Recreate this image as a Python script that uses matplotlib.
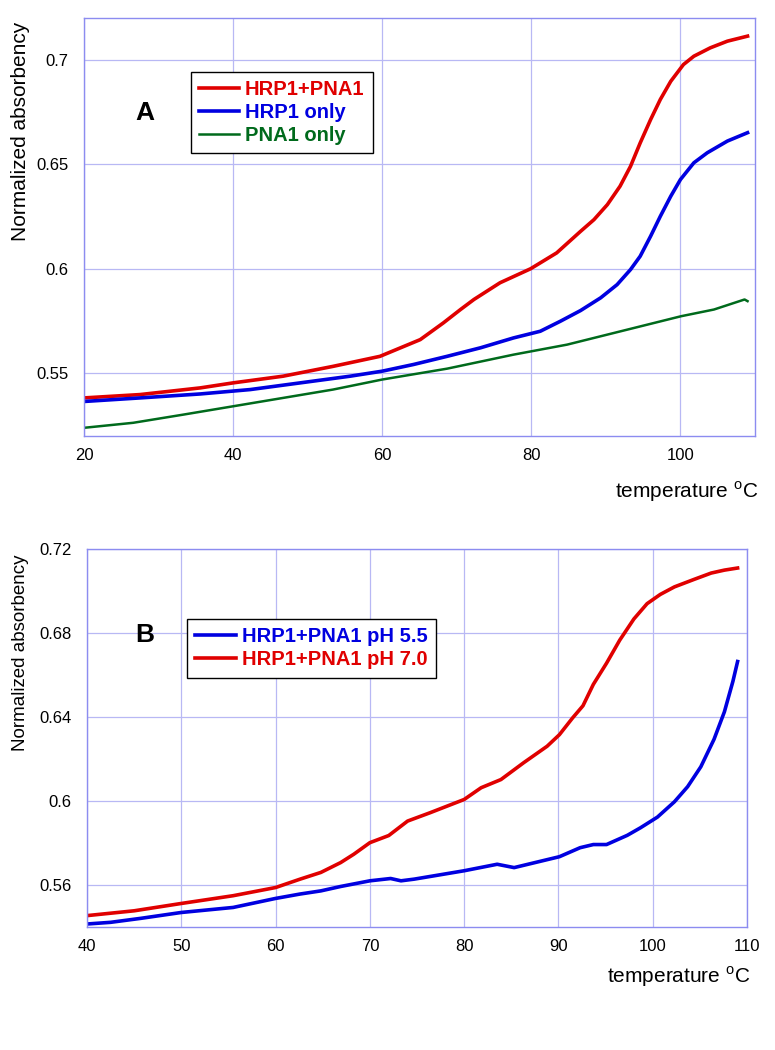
import numpy as np
import matplotlib
matplotlib.use("Agg")
import matplotlib.pyplot as plt

# Panel A: normalized absorbency vs temperature
a_red_t = [20, 27.5, 35.6, 40, 46.7, 53.4, 59.7, 62.4, 65.1, 68.2, 70.5, 72.3, 75.8,
           79.9, 83.4, 86.6, 88.4, 90.2, 91.9, 93.3, 94.6, 96, 97.3, 98.7, 100.4,
           101.8, 104, 106.3, 109]
a_red_v = [0.5382, 0.5398, 0.543, 0.5454, 0.5486, 0.5533, 0.5581, 0.5621, 0.5661,
           0.5741, 0.5805, 0.5853, 0.5933, 0.6, 0.6076, 0.6179, 0.6235, 0.6307,
           0.6395, 0.649, 0.6602, 0.6714, 0.681, 0.6897, 0.6977, 0.7017, 0.7057,
           0.7089, 0.7113]

a_blue_t = [20, 27.5, 35.6, 42.3, 49, 55.7, 60, 64.2, 68.7, 73.2, 77.6, 81.2, 83.9,
            86.6, 89.3, 91.5, 93.3, 94.6, 96, 97.3, 98.7, 100, 101.8, 103.6, 106.3, 109]
a_blue_v = [0.5365, 0.5382, 0.5401, 0.5422, 0.5454, 0.5486, 0.551, 0.5542, 0.5581,
            0.5622, 0.5669, 0.5701, 0.5749, 0.58, 0.5861, 0.5924, 0.5996, 0.606,
            0.6156, 0.6251, 0.6347, 0.6427, 0.6507, 0.6555, 0.6611, 0.6651]

a_green_t = [20, 26.6, 33.3, 40, 46.7, 53.4, 60, 68.7, 77.6, 84.8, 90.2, 100.1, 104.5,
             108.6, 109]
a_green_v = [0.5239, 0.5263, 0.5302, 0.5342, 0.5382, 0.5422, 0.547, 0.5522, 0.5589,
             0.5637, 0.5685, 0.5773, 0.5805, 0.5853, 0.5845]

# Panel B: pH comparison
b_ph55_t = [40, 42.5, 45.7, 50, 55.5, 60, 62.6, 64.8, 66.9, 70, 72.2, 73.3, 74.7, 80,
            83.5, 85.3, 90.1, 92.3, 93.7, 95.1, 97.3, 98.7, 100.5, 102.3, 103.7, 105.1,
            106.5, 107.6, 108.5, 109]
b_ph55_v = [0.5413, 0.5421, 0.544, 0.5468, 0.5492, 0.5535, 0.5556, 0.5571, 0.5592,
            0.5619, 0.563, 0.5619, 0.5627, 0.5667, 0.5698, 0.5682, 0.5734, 0.5777,
            0.5792, 0.5792, 0.5836, 0.5872, 0.5923, 0.5996, 0.6068, 0.6163, 0.6294,
            0.6425, 0.657, 0.6665]

b_ph70_t = [40, 45, 50, 55.5, 60, 62.6, 64.8, 66.9, 68.3, 70, 72, 74, 76.4, 80, 81.8,
            83.9, 86.3, 88.8, 90.1, 91.5, 92.6, 93.7, 95.1, 96.5, 98, 99.4, 100.8, 102.3,
            104.4, 106.2, 107.6, 109]
b_ph70_v = [0.5453, 0.5476, 0.5511, 0.5548, 0.5587, 0.5627, 0.5659, 0.5706, 0.5746,
            0.5801, 0.5835, 0.5904, 0.5944, 0.6007, 0.6063, 0.6102, 0.6182, 0.6261,
            0.6316, 0.6396, 0.6454, 0.6556, 0.6657, 0.6767, 0.6868, 0.6941, 0.6985,
            0.7021, 0.7057, 0.7087, 0.7101, 0.7111]

RED = '#e00000'
BLUE = '#0000e0'
GREEN = '#006a1c'
GRID = '#b8b8f4'
SPINE = '#8c8cf0'

plt.rcParams['font.family'] = ['Liberation Sans', 'DejaVu Sans']
plt.rcParams['mathtext.fontset'] = 'custom'
plt.rcParams['mathtext.rm'] = 'Liberation Sans'

fig = plt.figure(figsize=(7.75, 10.5), dpi=100)
ax1 = fig.add_axes([0.1084, 0.5848, 0.8658, 0.3981])
ax2 = fig.add_axes([0.1123, 0.1174, 0.8516, 0.3594])


def style(ax, xlim, ylim, xticks, yticks, yticklabels):
    ax.set_xlim(*xlim)
    ax.set_ylim(*ylim)
    ax.set_xticks(xticks)
    ax.set_yticks(yticks)
    ax.set_yticklabels(yticklabels)
    ax.grid(True, color=GRID, linewidth=0.9)
    ax.set_axisbelow(True)
    for s in ax.spines.values():
        s.set_color(SPINE)
        s.set_linewidth(1.0)
    ax.tick_params(length=0, labelsize=12)
    ax.tick_params(axis='x', pad=8.5)
    ax.tick_params(axis='y', pad=11)


def color_legend(ax, xy):
    leg = ax.legend(loc='upper left', bbox_to_anchor=xy, borderaxespad=0,
                    fancybox=False, edgecolor='black', framealpha=1,
                    prop={'weight': 'bold', 'size': 14.5}, handlelength=2.0,
                    handletextpad=0.3, labelspacing=0.2, borderpad=0.4)
    leg.get_frame().set_linewidth(1.0)
    for txt, line in zip(leg.get_texts(), leg.get_lines()):
        txt.set_color(line.get_color())


# Panel A
ax1.plot(a_red_t, a_red_v, color=RED, lw=2.6, label='HRP1+PNA1')
ax1.plot(a_blue_t, a_blue_v, color=BLUE, lw=2.6, label='HRP1 only')
ax1.plot(a_green_t, a_green_v, color=GREEN, lw=1.8, label='PNA1 only')
style(ax1, (20, 110), (0.52, 0.72), [20, 40, 60, 80, 100],
      [0.55, 0.6, 0.65, 0.7], ['0.55', '0.6', '0.65', '0.7'])
ax1.text(0.091, 0.773, 'A', transform=ax1.transAxes, fontsize=19,
         fontweight='bold', ha='center', va='center')
color_legend(ax1, (0.159, 0.870))

# Panel B
ax2.plot(b_ph55_t, b_ph55_v, color=BLUE, lw=2.6, label='HRP1+PNA1 pH 5.5')
ax2.plot(b_ph70_t, b_ph70_v, color=RED, lw=2.6, label='HRP1+PNA1 pH 7.0')
style(ax2, (40, 110), (0.54, 0.72), [40, 50, 60, 70, 80, 90, 100, 110],
      [0.56, 0.6, 0.64, 0.68, 0.72], ['0.56', '0.6', '0.64', '0.68', '0.72'])
ax2.text(0.088, 0.773, 'B', transform=ax2.transAxes, fontsize=19,
         fontweight='bold', ha='center', va='center')
color_legend(ax2, (0.152, 0.8145))

# axis labels
fig.text(21 / 775, 1 - 131 / 1050, 'Normalized absorbency', rotation=90,
         fontsize=15, ha='center', va='center')
fig.text(21 / 775, 1 - 653 / 1050, 'Normalized absorbency', rotation=90,
         fontsize=13.5, ha='center', va='center')
fig.text(758 / 775, 1 - 492 / 1050, r'temperature $^{\mathrm{o}}$C',
         fontsize=15, ha='right', va='center')
fig.text(750 / 775, 1 - 977 / 1050, r'temperature $^{\mathrm{o}}$C',
         fontsize=15, ha='right', va='center')

fig.savefig('out.png', dpi=100, facecolor='white')
